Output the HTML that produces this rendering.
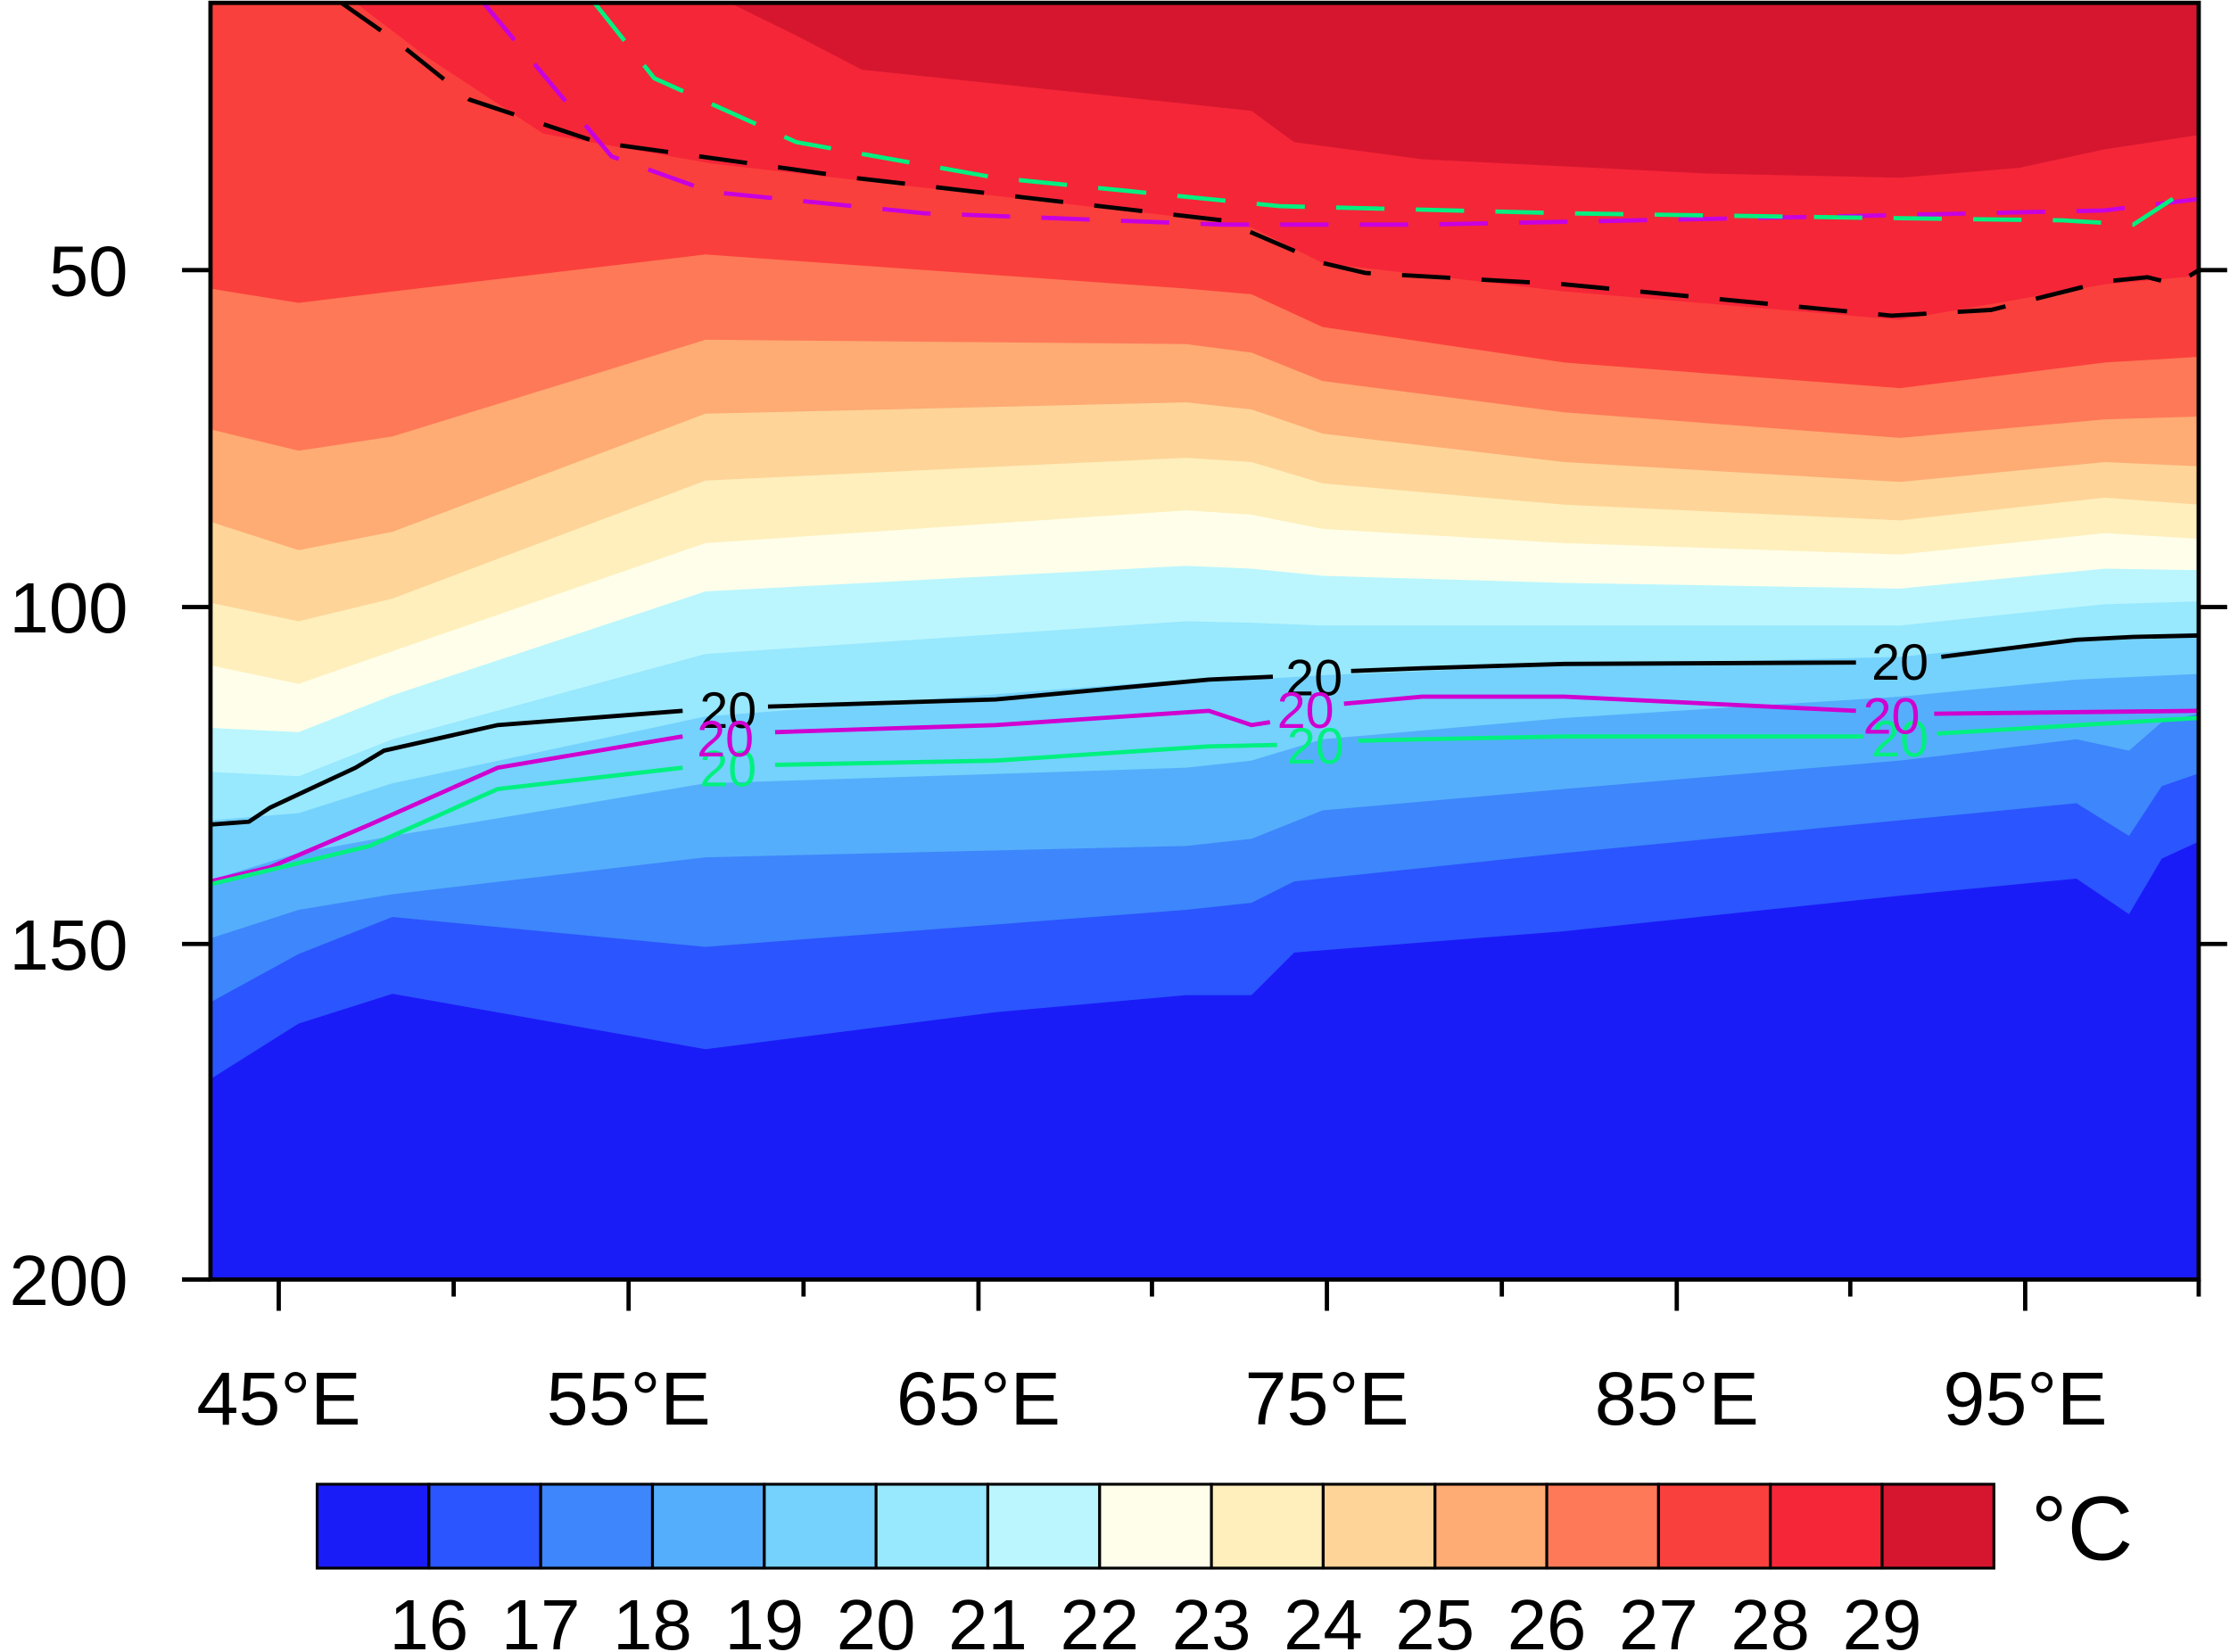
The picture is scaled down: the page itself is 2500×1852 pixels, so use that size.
<!DOCTYPE html>
<html><head><meta charset="utf-8"><style>
html,body{margin:0;padding:0;background:#fff;}
svg{display:block;}
text{font-family:"Liberation Sans",Arial,sans-serif;}
</style></head><body>
<svg width="2500" height="1852" viewBox="0 0 1568 1162" preserveAspectRatio="none" xmlns="http://www.w3.org/2000/svg">
<defs><clipPath id="c"><rect x="148" y="2" width="1398" height="898"/></clipPath></defs>
<g clip-path="url(#c)">
<rect x="140" y="0" width="1420" height="910" fill="#d6162f"/>
<polygon fill="#f52638" points="148,-10 500,-10 509,0 560,25 606,49 834,73 880,78 910,100 1000,112 1200,122 1336,125 1420,118 1480,105 1546,95 1546,900 148,900"/>
<polygon fill="#fa403c" points="148,-10 230,-10 250,2 300,40 382,94 500,115 834,153 880,160 930,185 1100,205 1336,225 1480,200 1546,194 1546,900 148,900"/>
<polygon fill="#fe7957" points="148,203 210,213 276,205 496,179 834,203 880,207 930,230 1100,255 1336,273 1480,255 1546,251 1546,900 148,900"/>
<polygon fill="#feab74" points="148,302 210,317 276,307 496,239 834,242 880,248 930,268 1100,290 1336,308 1480,295 1546,293 1546,900 148,900"/>
<polygon fill="#fed498" points="148,367 210,387 276,374 496,291 834,283 880,288 930,305 1100,325 1336,339 1480,325 1546,328 1546,900 148,900"/>
<polygon fill="#feefbc" points="148,424 210,437 276,421 496,338 834,322 880,325 930,340 1100,355 1336,366 1480,350 1546,355 1546,900 148,900"/>
<polygon fill="#fffeea" points="148,468 210,481 276,458 496,382 834,359 880,362 930,372 1100,382 1336,390 1480,375 1546,379 1546,900 148,900"/>
<polygon fill="#bbf6fe" points="148,512 210,515 276,489 496,416 834,398 880,400 930,405 1100,410 1336,414 1480,400 1546,401 1546,900 148,900"/>
<polygon fill="#98e8fe" points="148,543 210,546 276,520 496,460 834,437 880,438 930,440 1100,440 1336,440 1480,425 1546,423 1546,900 148,900"/>
<polygon fill="#74d2fd" points="148,577 210,572 276,551 496,504 834,478 880,478 930,475 1100,468 1336,462 1480,448 1546,445 1546,900 148,900"/>
<polygon fill="#55aefb" points="148,619 210,600 276,588 496,551 834,540 880,535 930,520 1100,505 1336,490 1460,478 1546,474 1546,900 148,900"/>
<polygon fill="#3d86fc" points="148,660 210,640 276,629 496,603 834,595 880,590 930,570 1100,555 1336,535 1460,520 1497,528 1520,508 1546,502 1546,900 148,900"/>
<polygon fill="#2b55fe" points="148,705 210,671 276,645 496,666 834,640 880,635 910,620 1100,600 1336,577 1460,565 1497,588 1520,553 1546,544 1546,900 148,900"/>
<polygon fill="#1a1cf8" points="148,759 210,720 276,699 496,738 700,712 834,700 880,700 910,670 1100,655 1336,630 1460,618 1497,643 1520,604 1546,592 1546,900 148,900"/>

<g fill="none" stroke-width="3" stroke-dasharray="34,22">
<polyline stroke="#000" points="240,2 280,30 330,70 420,100 600,125 860,155 930,185 960,192 1100,200 1330,222 1400,218 1480,198 1510,195 1530,200 1546,190"/>
<polyline stroke="#c800e0" points="340,2 380,50 430,110 500,135 650,150 860,158 1000,158 1300,152 1480,148 1546,140"/>
<polyline stroke="#00f080" points="418,2 460,55 560,100 700,125 900,145 1100,150 1300,153 1450,155 1500,158 1546,128"/>
</g>
<g fill="none" stroke-width="3">
<polyline stroke="#000" points="148,580 175,578 190,568 250,540 270,528 350,510 480,500"/>
<polyline stroke="#000" points="540,497 700,492 850,478 895,476"/>
<polyline stroke="#000" points="950,472 1000,470 1100,467 1305,466"/>
<polyline stroke="#000" points="1365,462 1460,450 1500,448 1546,447"/>
<polyline stroke="#d000d0" points="148,620 190,610 260,580 350,540 480,518"/>
<polyline stroke="#d000d0" points="545,515 700,510 850,500 880,510 893,508"/>
<polyline stroke="#d000d0" points="945,495 1000,490 1100,490 1305,500"/>
<polyline stroke="#d000d0" points="1360,502 1546,500"/>
<polyline stroke="#00f080" points="148,622 260,595 350,555 480,540"/>
<polyline stroke="#00f080" points="545,538 700,535 850,525 898,524"/>
<polyline stroke="#00f080" points="955,521 1000,520 1100,518 1310,518"/>
<polyline stroke="#00f080" points="1362,516 1546,505"/>
</g>
<g font-size="36" text-anchor="middle">
<text x="512" y="512" fill="#000">20</text>
<text x="924" y="489" fill="#000">20</text>
<text x="1336" y="478" fill="#000">20</text>
<text x="512" y="553" fill="#00f080">20</text>
<text x="925" y="537" fill="#00f080">20</text>
<text x="1336" y="532" fill="#00f080">20</text>
<text x="510" y="532" fill="#d000d0">20</text>
<text x="918" y="512" fill="#d000d0">20</text>
<text x="1330" y="516" fill="#d000d0">20</text>
</g>
</g>
<rect x="148" y="2" width="1398" height="898" fill="none" stroke="#000" stroke-width="3"/>
<g stroke="#000" stroke-width="3">
<line x1="128" y1="190" x2="148" y2="190"/><line x1="128" y1="427" x2="148" y2="427"/><line x1="128" y1="664" x2="148" y2="664"/><line x1="128" y1="900" x2="148" y2="900"/>
<line x1="1546" y1="190" x2="1566" y2="190"/><line x1="1546" y1="427" x2="1566" y2="427"/><line x1="1546" y1="664" x2="1566" y2="664"/>
<line x1="196" y1="900" x2="196" y2="922"/><line x1="442" y1="900" x2="442" y2="922"/><line x1="688" y1="900" x2="688" y2="922"/><line x1="933" y1="900" x2="933" y2="922"/><line x1="1179" y1="900" x2="1179" y2="922"/><line x1="1424" y1="900" x2="1424" y2="922"/>
<line x1="319" y1="900" x2="319" y2="912"/><line x1="565" y1="900" x2="565" y2="912"/><line x1="810" y1="900" x2="810" y2="912"/><line x1="1056" y1="900" x2="1056" y2="912"/><line x1="1301" y1="900" x2="1301" y2="912"/><line x1="1546" y1="900" x2="1546" y2="912"/>
</g>
<g font-size="50" text-anchor="end">
<text x="90" y="208">50</text><text x="90" y="445">100</text><text x="90" y="682">150</text><text x="90" y="918">200</text>
</g>
<g font-size="53" text-anchor="middle">
<text x="196" y="1002">45°E</text><text x="442" y="1002">55°E</text><text x="688" y="1002">65°E</text><text x="933" y="1002">75°E</text><text x="1179" y="1002">85°E</text><text x="1424" y="1002">95°E</text>
</g>
<g stroke="#000" stroke-width="2">
<rect x="223" y="1044" width="78.6" height="59" fill="#1a1cf8"/>
<rect x="301.6" y="1044" width="78.6" height="59" fill="#2b55fe"/>
<rect x="380.2" y="1044" width="78.6" height="59" fill="#3d86fc"/>
<rect x="458.8" y="1044" width="78.6" height="59" fill="#55aefb"/>
<rect x="537.4" y="1044" width="78.6" height="59" fill="#74d2fd"/>
<rect x="616" y="1044" width="78.6" height="59" fill="#98e8fe"/>
<rect x="694.6" y="1044" width="78.6" height="59" fill="#bbf6fe"/>
<rect x="773.2" y="1044" width="78.6" height="59" fill="#fffeea"/>
<rect x="851.8" y="1044" width="78.6" height="59" fill="#feefbc"/>
<rect x="930.4" y="1044" width="78.6" height="59" fill="#fed498"/>
<rect x="1009" y="1044" width="78.6" height="59" fill="#feab74"/>
<rect x="1087.6" y="1044" width="78.6" height="59" fill="#fe7957"/>
<rect x="1166.2" y="1044" width="78.6" height="59" fill="#fa403c"/>
<rect x="1244.8" y="1044" width="78.6" height="59" fill="#f52638"/>
<rect x="1323.4" y="1044" width="78.6" height="59" fill="#d6162f"/>
</g>
<g font-size="50" text-anchor="middle">
<text x="301.6" y="1160">16</text><text x="380.2" y="1160">17</text><text x="458.8" y="1160">18</text><text x="537.4" y="1160">19</text><text x="616" y="1160">20</text><text x="694.6" y="1160">21</text><text x="773.2" y="1160">22</text><text x="851.8" y="1160">23</text><text x="930.4" y="1160">24</text><text x="1009" y="1160">25</text><text x="1087.6" y="1160">26</text><text x="1166.2" y="1160">27</text><text x="1244.8" y="1160">28</text><text x="1323.4" y="1160">29</text>
</g>
<text x="1428" y="1097" font-size="64">°C</text>
</svg>
</body></html>
